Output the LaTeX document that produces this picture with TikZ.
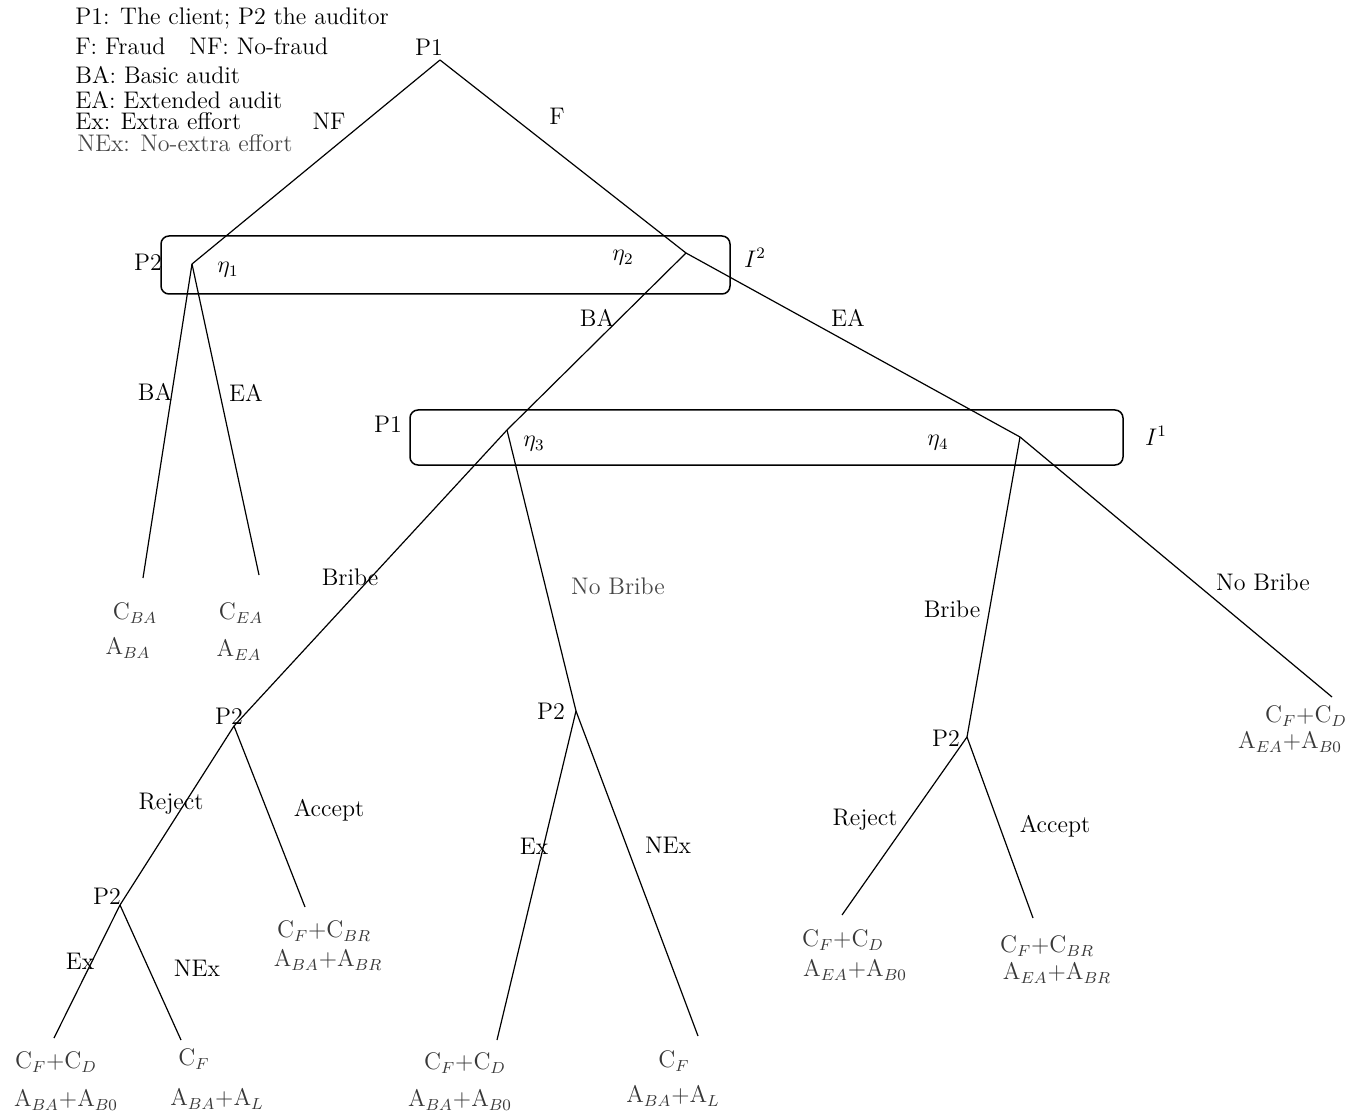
\documentclass[tikz,border=0pt]{standalone}
\begin{document}
\begin{tikzpicture}[x=0.5pt,y=-0.5pt,
  txt/.style={inner sep=0pt,font=\fontsize{12}{14}\selectfont},
  pay/.style={txt,text=black!78},
  soft/.style={txt,text=black!72},
  edge/.style={line width=0.6pt},
  infoset/.style={line width=0.75pt,rounded corners=4pt}]
\useasboundingbox (0,0) rectangle (1354,1117);

% legend
\node[txt,anchor=west] (l1) at (75,18) {P1: The client; P2 the auditor};
\node[txt,anchor=west] (l2) at (75,46) {F: Fraud\quad NF: No-fraud};
\node[txt,anchor=west] (l3) at (75,75) {BA: Basic audit};
\node[txt,anchor=west] (l4) at (75,100) {EA: Extended audit};
\node[txt,anchor=west] (l5) at (75,121) {Ex: Extra effort};
\node[soft,anchor=west] (l6) at (77,143) {NEx: No-extra effort};

% decision points
\coordinate (root) at (440,60);
\coordinate (e1) at (192,264);
\coordinate (e2) at (686,253);
\coordinate (e3) at (507,430);
\coordinate (e4) at (1020,437);
\coordinate (pa) at (234,726);
\coordinate (pb) at (120,905);
\coordinate (pc) at (576,711);
\coordinate (pd) at (967,737);

% terminal points
\coordinate (t1) at (143,578);
\coordinate (t2) at (259,575);
\coordinate (t3) at (305,907);
\coordinate (t4) at (54,1038);
\coordinate (t5) at (181,1040);
\coordinate (t6) at (497,1040);
\coordinate (t7) at (698,1036);
\coordinate (t8) at (842,915);
\coordinate (t9) at (1033,918);
\coordinate (t10) at (1332,697);

% information sets
\draw[infoset] (161,236) rectangle (730,294);
\draw[infoset] (410,410) rectangle (1123,465);

% branches
\draw[edge] (root) -- (e1);
\draw[edge] (root) -- (e2);
\draw[edge] (e1) -- (t1);
\draw[edge] (e1) -- (t2);
\draw[edge] (e2) -- (e3);
\draw[edge] (e2) -- (e4);
\draw[edge] (e3) -- (pa);
\draw[edge] (e3) -- (pc);
\draw[edge] (e4) -- (pd);
\draw[edge] (e4) -- (t10);
\draw[edge] (pa) -- (pb);
\draw[edge] (pa) -- (t3);
\draw[edge] (pb) -- (t4);
\draw[edge] (pb) -- (t5);
\draw[edge] (pc) -- (t6);
\draw[edge] (pc) -- (t7);
\draw[edge] (pd) -- (t8);
\draw[edge] (pd) -- (t9);

% player labels
\node[txt] (nroot) at (429,47) {P1};
\node[txt] (ne1) at (148,262) {P2};
\node[txt] (ne3) at (388,424) {P1};
\node[txt] (npa) at (229,716) {P2};
\node[txt] (npb) at (107,896) {P2};
\node[txt] (npc) at (551,711) {P2};
\node[txt] (npd) at (946,738) {P2};

% node names and information set names
\node[txt] (h1) at (228,270) {$\eta_1$};
\node[txt] (h2) at (623,258) {$\eta_2$};
\node[txt] (h3) at (534,444) {$\eta_3$};
\node[txt] (h4) at (938,443) {$\eta_4$};
\node[txt] (i2) at (755,258) {$I^2$};
\node[txt] (i1) at (1156,436) {$I^1$};

% action labels
\node[txt] (aNF) at (329,121) {NF};
\node[txt] (aF) at (557,116) {F};
\node[txt] (aBA1) at (155,392) {BA};
\node[txt] (aEA1) at (246,393) {EA};
\node[txt] (aBA2) at (597,318) {BA};
\node[txt] (aEA2) at (848,318) {EA};
\node[txt] (aB1) at (350,577) {Bribe};
\node[soft] (aNB1) at (618,586) {No Bribe};
\node[txt] (aB2) at (952,609) {Bribe};
\node[txt] (aNB2) at (1263,582) {No Bribe};
\node[txt] (aR1) at (171,804) {Reject};
\node[txt] (aA1) at (329,810) {Accept};
\node[txt] (aX1) at (80,961) {Ex};
\node[txt] (aN1) at (197,968) {NEx};
\node[txt] (aX2) at (534,846) {Ex};
\node[txt] (aN2) at (668,845) {NEx};
\node[txt] (aR2) at (865,820) {Reject};
\node[txt] (aA2) at (1055,826) {Accept};

% payoffs
\node[pay] (p1a) at (135,613) {C$_{BA}$};
\node[pay] (p1b) at (128,648) {A$_{BA}$};
\node[pay] (p2a) at (241,613) {C$_{EA}$};
\node[pay] (p2b) at (239,650) {A$_{EA}$};
\node[pay] (p3a) at (324,931) {C$_F$+C$_{BR}$};
\node[pay] (p3b) at (328,960) {A$_{BA}$+A$_{BR}$};
\node[pay] (p4a) at (56,1062) {C$_F$+C$_D$};
\node[pay] (p4b) at (66,1100) {A$_{BA}$+A$_{B0}$};
\node[pay] (p5a) at (194,1059) {C$_F$};
\node[pay] (p5b) at (217,1099) {A$_{BA}$+A$_L$};
\node[pay] (p6a) at (465,1063) {C$_F$+C$_D$};
\node[pay] (p6b) at (460,1100) {A$_{BA}$+A$_{B0}$};
\node[pay] (p7a) at (674,1061) {C$_F$};
\node[pay] (p7b) at (673,1096) {A$_{BA}$+A$_L$};
\node[pay] (p8a) at (843,940) {C$_F$+C$_D$};
\node[pay] (p8b) at (855,970) {A$_{EA}$+A$_{B0}$};
\node[pay] (p9a) at (1047,946) {C$_F$+C$_{BR}$};
\node[pay] (p9b) at (1057,973) {A$_{EA}$+A$_{BR}$};
\node[pay] (p10a) at (1306,716) {C$_F$+C$_D$};
\node[pay] (p10b) at (1290,742) {A$_{EA}$+A$_{B0}$};
\end{tikzpicture}
\end{document}
